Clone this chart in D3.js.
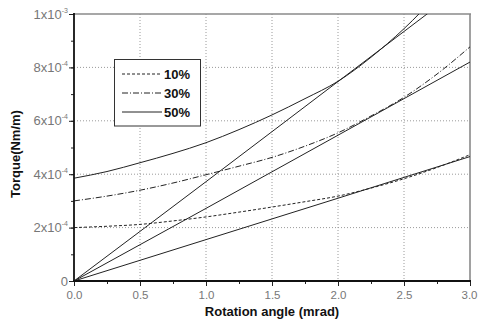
<!DOCTYPE html>
<html><head><meta charset="utf-8">
<script src="https://cdn.jsdelivr.net/npm/d3@7"></script>
<style>
html,body{margin:0;padding:0;background:#fff;}
text{font-family:"Liberation Sans",Arial,sans-serif;}
</style></head>
<body><svg id="c" width="478" height="327"></svg>
<script>
// ---- data ----
const xTicks = [0.0, 0.5, 1.0, 1.5, 2.0, 2.5, 3.0];
const xTickLabels = ["0.0", "0.5", "1.0", "1.5", "2.0", "2.5", "3.0"];
const yTicks = [0, 2e-4, 4e-4, 6e-4, 8e-4, 1e-3];
const yTickMantissa = ["0", "2", "4", "6", "8", "1"];
const yTickExp = ["", "-4", "-4", "-4", "-4", "-3"];

const curveX = [0, 0.25, 0.5, 0.75, 1.0, 1.25, 1.5, 1.75, 2.0, 2.25, 2.5, 2.75, 3.0];
const s10 = [0.200, 0.205, 0.212, 0.225, 0.240, 0.258, 0.277, 0.297, 0.318, 0.348, 0.383, 0.425, 0.473].map(v => v * 1e-3);
const s30 = [0.300, 0.318, 0.340, 0.367, 0.398, 0.430, 0.463, 0.505, 0.555, 0.618, 0.688, 0.775, 0.877].map(v => v * 1e-3);
const s50 = [0.385, 0.410, 0.443, 0.478, 0.518, 0.567, 0.622, 0.683, 0.748, 0.838, 0.945, 1.070, 1.200].map(v => v * 1e-3);

const lineX = [0, 1.0, 2.0, 3.0];
const line10 = [0, 0.155, 0.310, 0.466].map(v => v * 1e-3);
const line30 = [0, 0.272, 0.546, 0.820].map(v => v * 1e-3);
const line50 = [0, 0.372, 0.747, 1.122].map(v => v * 1e-3);

const legendLabels = ["10%", "30%", "50%"];
const dashes = ["3,2", "6,2,1,2", null];

// ---- layout ----
const svg = d3.select("#c");
const L = 74, R = 470, T = 14, B = 281;
const x = d3.scaleLinear().domain([0, 3]).range([L, R]);
const y = d3.scaleLinear().domain([0, 1e-3]).range([B, T]);

svg.append("defs").append("clipPath").attr("id", "clip")
  .append("rect").attr("x", L).attr("y", T).attr("width", R - L).attr("height", B - T);

// grid
const g = svg.append("g");
g.selectAll(".vg").data(xTicks.filter(d => d > 0 && d < 3)).enter().append("line")
  .attr("x1", d => x(d)).attr("x2", d => x(d)).attr("y1", T).attr("y2", B)
  .attr("stroke", "#9a9a9a").attr("stroke-width", 1).attr("stroke-dasharray", "1,2");
g.selectAll(".hg").data(yTicks.filter(d => d > 0 && d < 1e-3)).enter().append("line")
  .attr("x1", L).attr("x2", R).attr("y1", d => y(d)).attr("y2", d => y(d))
  .attr("stroke", "#9a9a9a").attr("stroke-width", 1).attr("stroke-dasharray", "1,2");

// frame top/right
svg.append("line").attr("x1", L).attr("x2", R + 1).attr("y1", T).attr("y2", T).attr("stroke", "#8a8a8a").attr("stroke-width", 1.6);
svg.append("line").attr("x1", R).attr("x2", R).attr("y1", T).attr("y2", B).attr("stroke", "#8a8a8a").attr("stroke-width", 1.6);

// series
const lineGen = d3.line().x(d => x(d[0])).y(d => y(d[1])).curve(d3.curveMonotoneX);
const plot = svg.append("g").attr("clip-path", "url(#clip)");
[[s10, dashes[0]], [s30, dashes[1]], [s50, dashes[2]]].forEach(([vals, da]) => {
  plot.append("path").datum(curveX.map((xv, i) => [xv, vals[i]]))
    .attr("d", lineGen).attr("fill", "none").attr("stroke", "#222").attr("stroke-width", 1)
    .attr("stroke-dasharray", da);
});
[line10, line30, line50].forEach(vals => {
  plot.append("path").datum(lineX.map((xv, i) => [xv, vals[i]]))
    .attr("d", lineGen).attr("fill", "none").attr("stroke", "#222").attr("stroke-width", 1);
});

// axes
const xMinor = d3.range(0, 3.01, 0.25);
const yMinor = d3.range(0, 1.0001e-3, 1e-4);
const ax = svg.append("g").attr("transform", `translate(0,${B})`)
  .call(d3.axisBottom(x).tickValues(xMinor).tickSize(3).tickFormat(""));
ax.select(".domain").remove();
ax.selectAll("line").attr("stroke", "#222");
const ax2 = svg.append("g").attr("transform", `translate(0,${B})`)
  .call(d3.axisBottom(x).tickValues(xTicks).tickSize(5).tickPadding(5).tickFormat((d, i) => xTickLabels[i]));
ax2.select(".domain").remove();
ax2.selectAll("line").attr("stroke", "#222");
ax2.selectAll("text").attr("fill", "#777").attr("font-size", 11.5).attr("font-family", "Liberation Sans, Arial, sans-serif");
ax2.selectAll("text").filter((d, i) => i === xTicks.length - 1).attr("dx", -1);

const ay = svg.append("g").attr("transform", `translate(${L},0)`)
  .call(d3.axisLeft(y).tickValues(yMinor).tickSize(3).tickFormat(""));
ay.select(".domain").remove();
ay.selectAll("line").attr("stroke", "#222");
const ay2 = svg.append("g").attr("transform", `translate(${L},0)`)
  .call(d3.axisLeft(y).tickValues(yTicks).tickSize(5).tickFormat(""));
ay2.select(".domain").remove();
ay2.selectAll("line").attr("stroke", "#222");

yTicks.forEach((v, i) => {
  const t = svg.append("text").attr("x", L - 6).attr("y", y(v) + 4.5)
    .attr("text-anchor", "end").attr("fill", "#777").attr("font-size", 13);
  if (yTickExp[i] === "") { t.text(yTickMantissa[i]); }
  else {
    t.append("tspan").text(yTickMantissa[i] + "x10");
    t.append("tspan").attr("dy", -6).attr("font-size", 7).text(yTickExp[i]);
  }
});

// axis lines
svg.append("line").attr("x1", L).attr("x2", L).attr("y1", T - 1).attr("y2", B + 1).attr("stroke", "#111").attr("stroke-width", 1.8);
svg.append("line").attr("x1", L - 1).attr("x2", R + 1).attr("y1", B).attr("y2", B).attr("stroke", "#111").attr("stroke-width", 1.8);

// titles
svg.append("text").attr("x", 272).attr("y", 316).attr("text-anchor", "middle")
  .attr("font-weight", "bold").attr("font-size", 13).attr("fill", "#111").text("Rotation angle (mrad)");
svg.append("text").attr("transform", "translate(20,154) rotate(-90)").attr("text-anchor", "middle")
  .attr("font-weight", "bold").attr("font-size", 13).attr("fill", "#111").text("Torque(Nm/m)");

// legend
const lg = svg.append("g");
lg.append("rect").attr("x", 114.5).attr("y", 59.5).attr("width", 86).attr("height", 66.5)
  .attr("fill", "#fff").attr("stroke", "#333").attr("stroke-width", 1);
const legY = [74, 93, 112];
legendLabels.forEach((lab, i) => {
  lg.append("line").attr("x1", 122).attr("x2", 162).attr("y1", legY[i]).attr("y2", legY[i])
    .attr("stroke", "#222").attr("stroke-width", 1).attr("stroke-dasharray", dashes[i]);
  lg.append("text").attr("x", 164).attr("y", legY[i] + 5).attr("font-weight", "bold")
    .attr("font-size", 13).attr("fill", "#111").text(lab);
});
</script></body></html>
